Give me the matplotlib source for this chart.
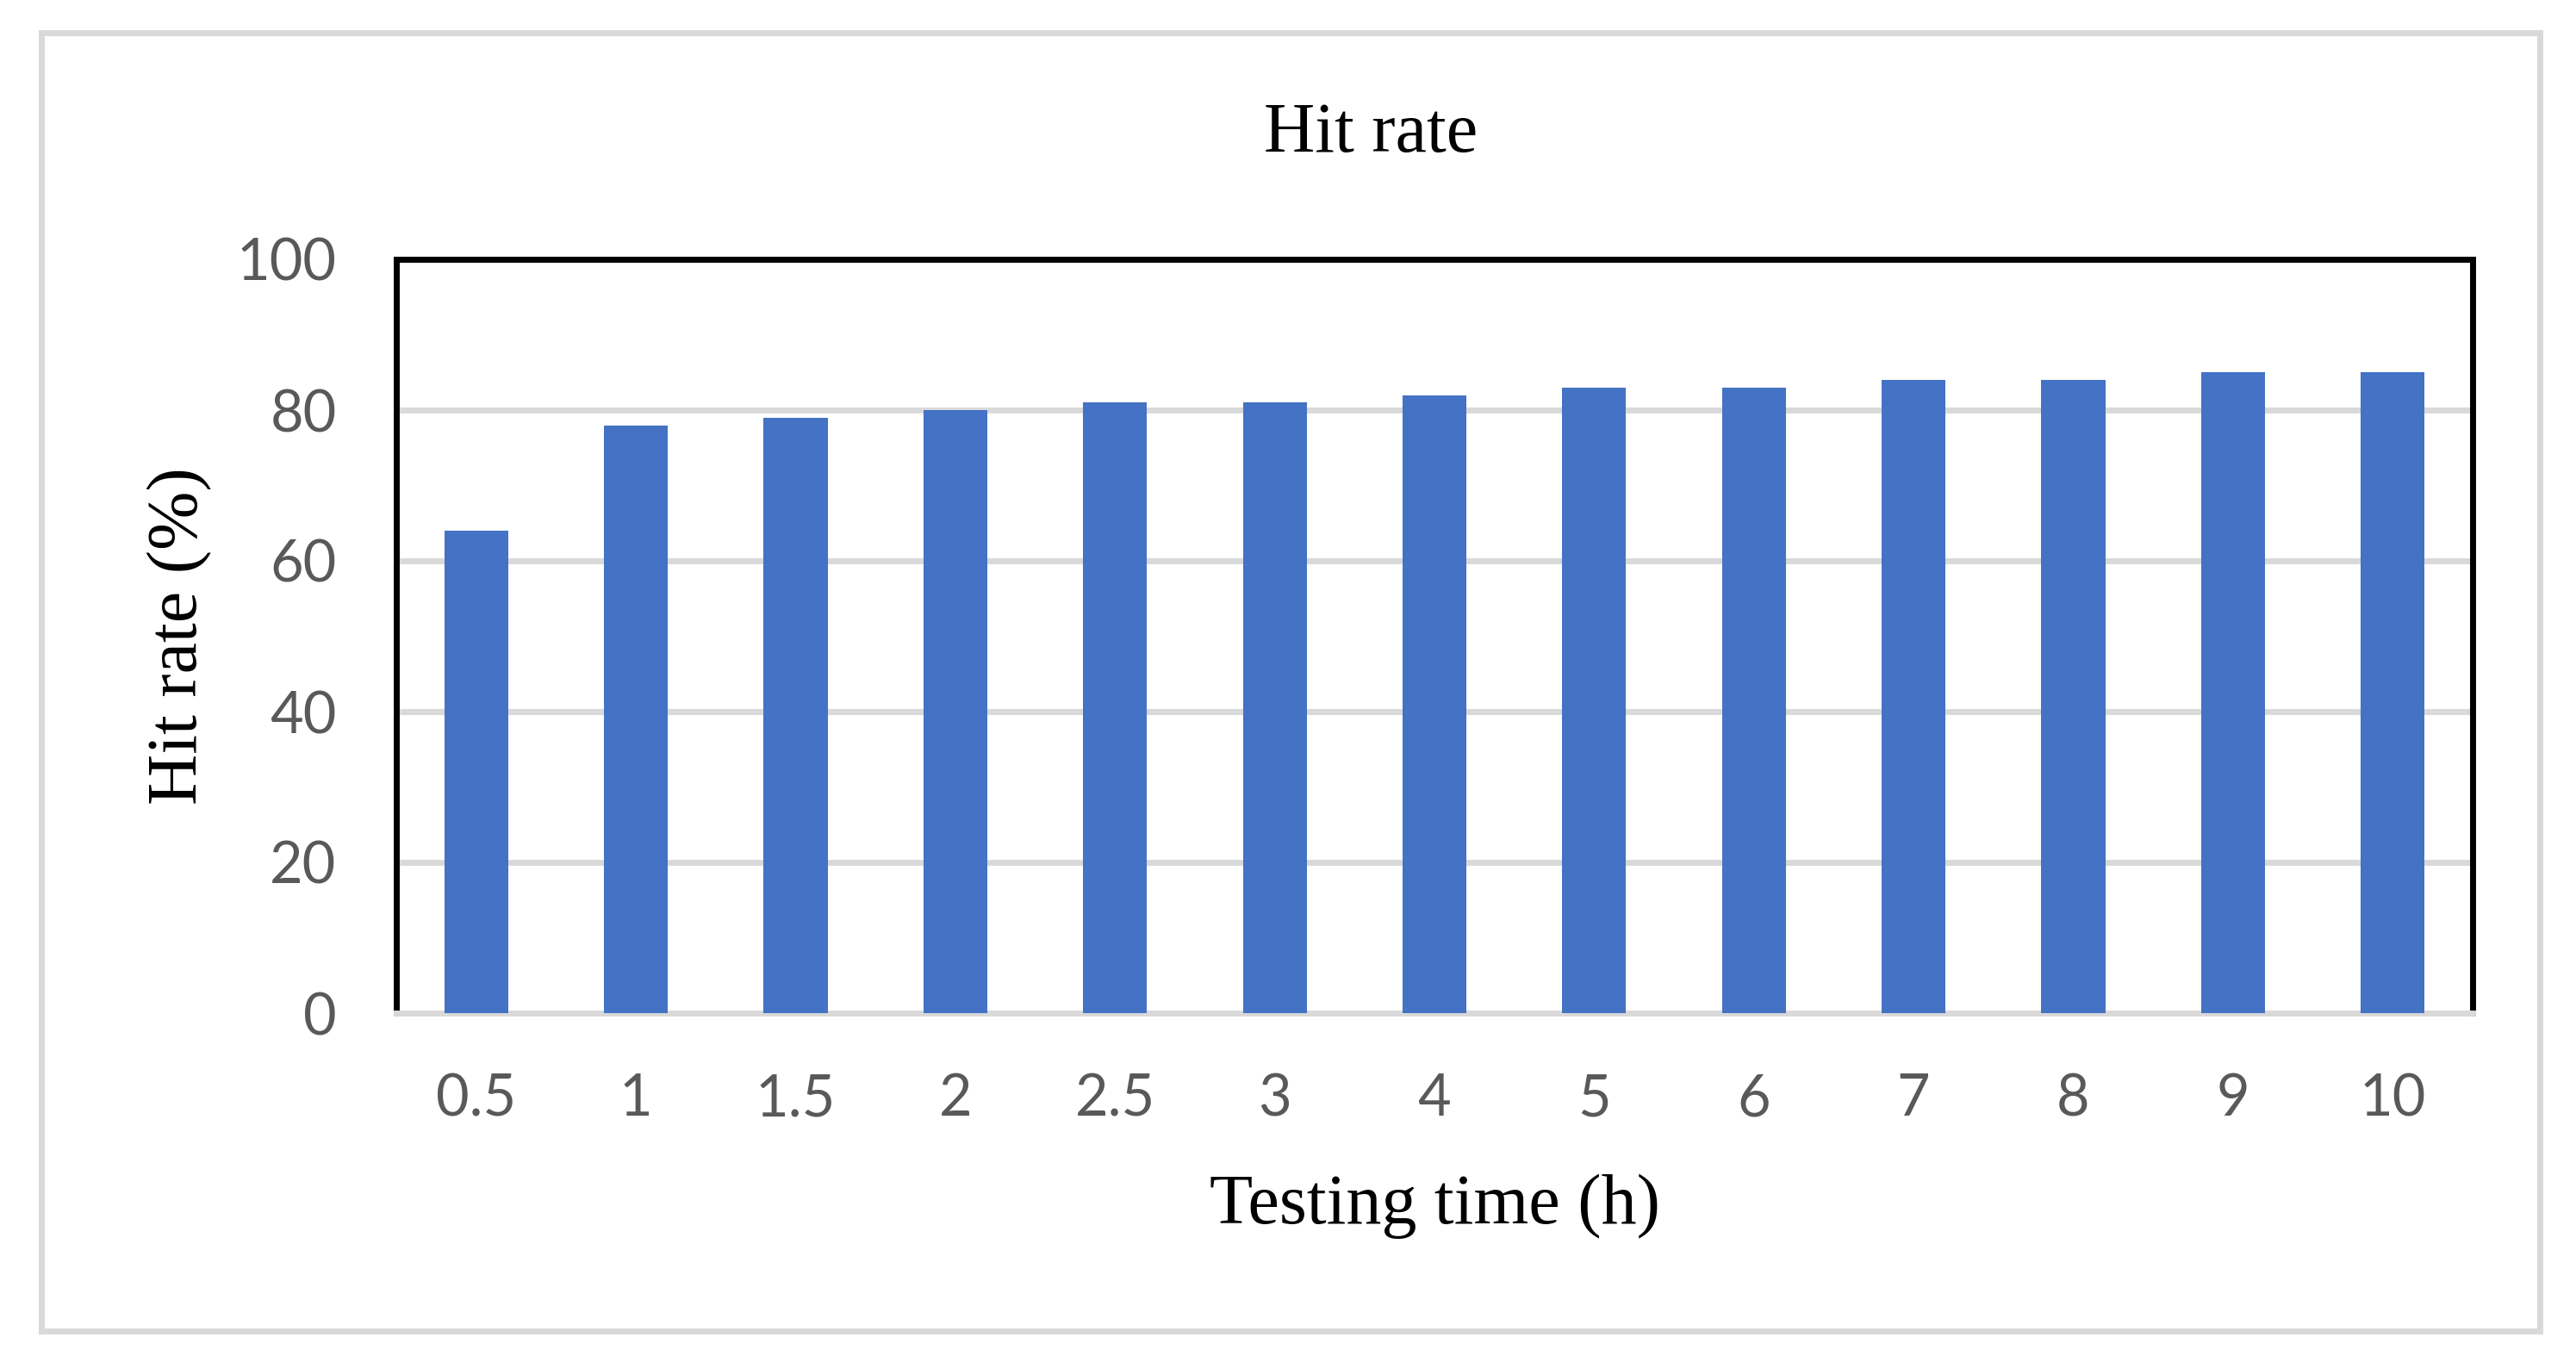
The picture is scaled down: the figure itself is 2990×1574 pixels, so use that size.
import matplotlib.pyplot as plt
from matplotlib.patches import Rectangle
import numpy as np

# values
testing_time = ["0.5", "1", "1.5", "2", "2.5", "3", "4", "5", "6", "7", "8", "9", "10"]
hit_rate = [64, 78, 79, 80, 81, 81, 82, 83, 83, 84, 84, 85, 85]
y_ticks = [0, 20, 40, 60, 80, 100]

W, H = 2990, 1574
fig = plt.figure(figsize=(W / 200, H / 200), dpi=200)

# chart area border (light grey box around everything)
fig.patches.append(Rectangle((48 / W, 1 - 1545 / H), 2900 / W, 1507 / H,
                             transform=fig.transFigure, fill=False,
                             edgecolor="#D9D9D9", linewidth=2.5))

ax = fig.add_axes([460 / W, 1 - 1176 / H, 2410 / W, 875 / H])
x = np.arange(len(testing_time))
ax.bar(x, hit_rate, width=0.4, color="#4472C4", zorder=3)

ax.set_xlim(-0.5, len(testing_time) - 0.5)
ax.set_ylim(0, 100)
ax.set_xticks(x)
ax.set_xticklabels(testing_time)
ax.set_yticks(y_ticks)

ax.yaxis.grid(True, color="#D9D9D9", linewidth=2.5, zorder=1)
ax.set_axisbelow(True)
ax.tick_params(length=0, labelsize=24, labelcolor="#595959")
ax.tick_params(axis="y", pad=25)
ax.tick_params(axis="x", pad=25)
for lab in ax.get_xticklabels() + ax.get_yticklabels():
    lab.set_fontfamily("Lato")

for side in ["left", "top", "right"]:
    ax.spines[side].set_color("black")
    ax.spines[side].set_linewidth(2.5)
ax.spines["bottom"].set_color("#D9D9D9")
ax.spines["bottom"].set_linewidth(2.5)

serif = "Liberation Serif"
ax.set_xlabel("Testing time (h)", fontsize=29.5, family=serif, labelpad=20)
ax.set_ylabel("Hit rate (%)", fontsize=29.5, family=serif, labelpad=10)
fig.text(0.532, 1 - 156 / H, "Hit rate", ha="center", va="center",
         fontsize=29.5, family=serif)

fig.savefig("out.png", dpi=200, facecolor="white")
